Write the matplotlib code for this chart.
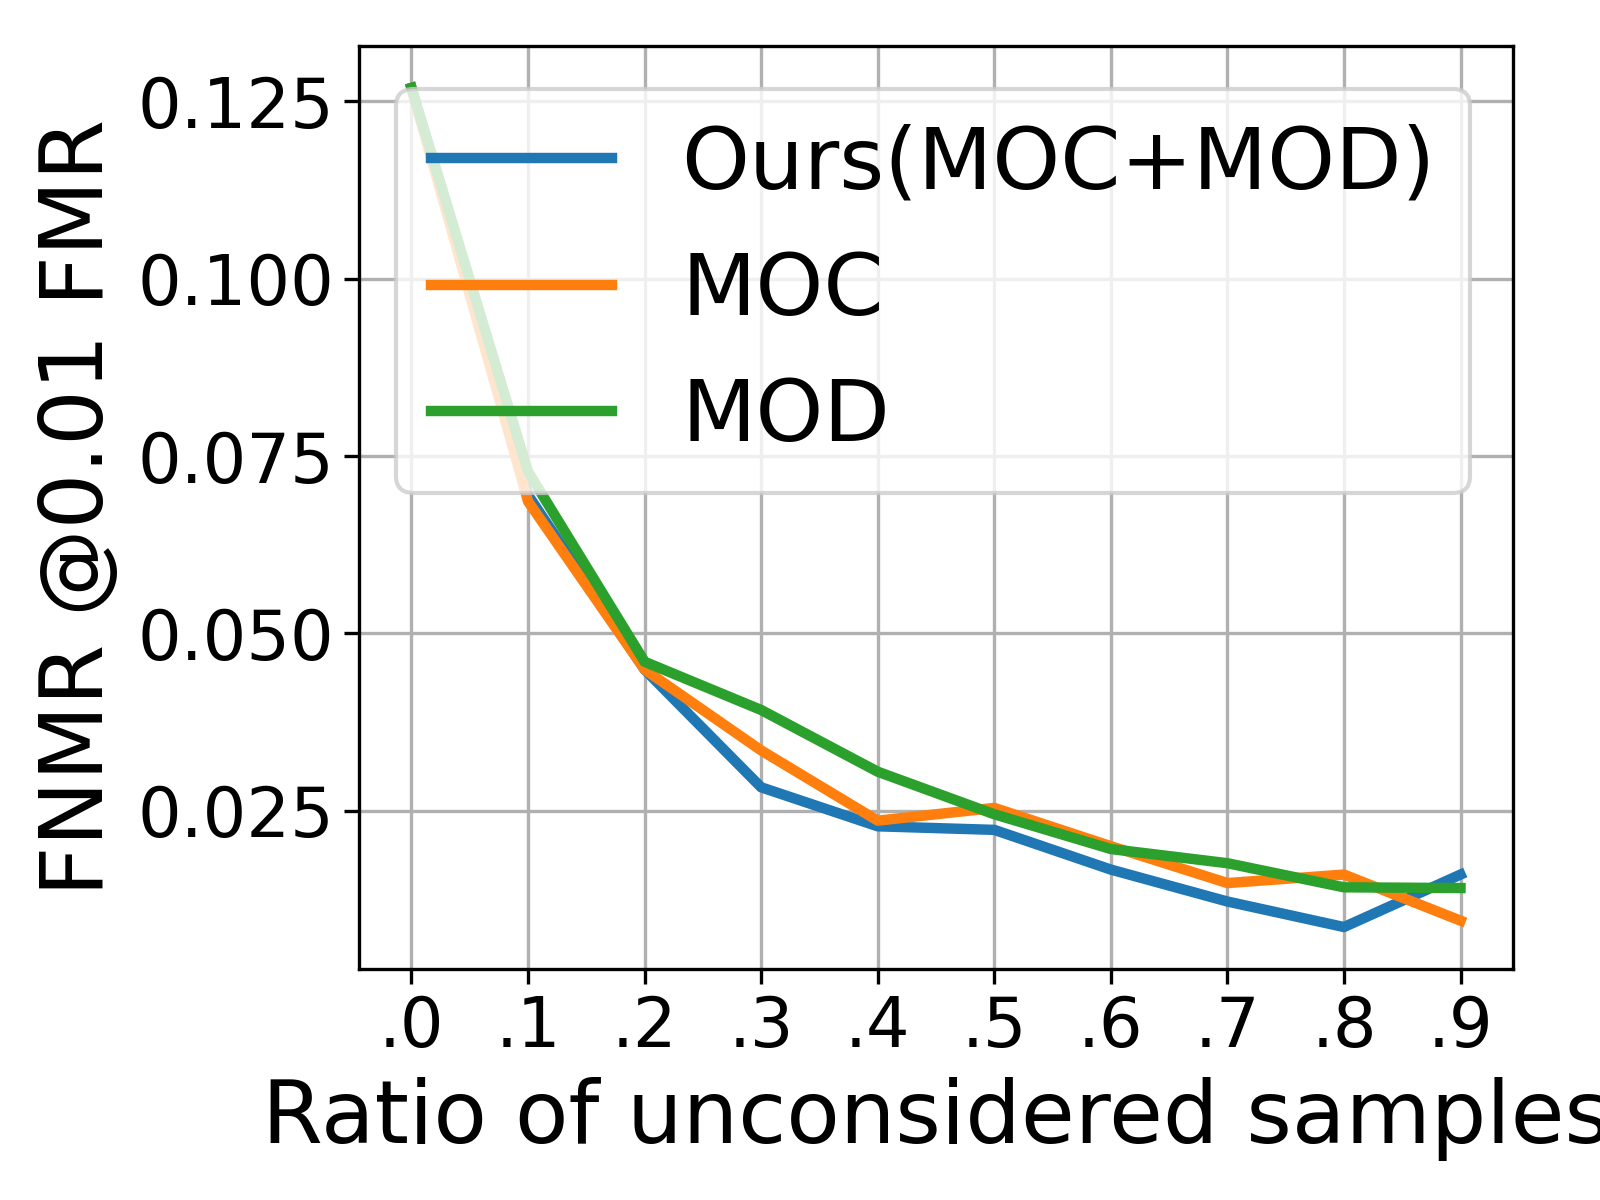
import numpy as np
import matplotlib
matplotlib.use("Agg")
import matplotlib.pyplot as plt

ratios = [0.0, 0.1, 0.2, 0.3, 0.4, 0.5, 0.6, 0.7, 0.8, 0.9]
tick_labels = [".0", ".1", ".2", ".3", ".4", ".5", ".6", ".7", ".8", ".9"]

ours = [0.1269, 0.0695, 0.0449, 0.0283, 0.0228, 0.0223, 0.0167, 0.0122, 0.0086, 0.0160]
moc = [0.1269, 0.0686, 0.0449, 0.0335, 0.0236, 0.0254, 0.0200, 0.0148, 0.0160, 0.0095]
mod = [0.1269, 0.0728, 0.0460, 0.0392, 0.0305, 0.0245, 0.0196, 0.0176, 0.0142, 0.0141]

fig = plt.figure(figsize=(16 / 3, 4), dpi=300)
ax = fig.add_axes([0.2244, 0.1925, 0.9456 - 0.2244, 0.9617 - 0.1925])

ax.plot(ratios, ours, linewidth=2.5, label="Ours(MOC+MOD)")
ax.plot(ratios, moc, linewidth=2.5, label="MOC")
ax.plot(ratios, mod, linewidth=2.5, label="MOD")

ax.set_xticks(ratios)
ax.set_xticklabels(tick_labels)
ax.tick_params(labelsize=16.5, pad=2.4)
ax.grid(True)
ax.set_xlabel("Ratio of unconsidered samples", fontsize=21)
ax.set_ylabel("FNMR @0.01 FMR", fontsize=21)
ax.legend(loc="upper right", fontsize=20.7, handlelength=2.1)

fig.savefig("out.png", dpi=300)
